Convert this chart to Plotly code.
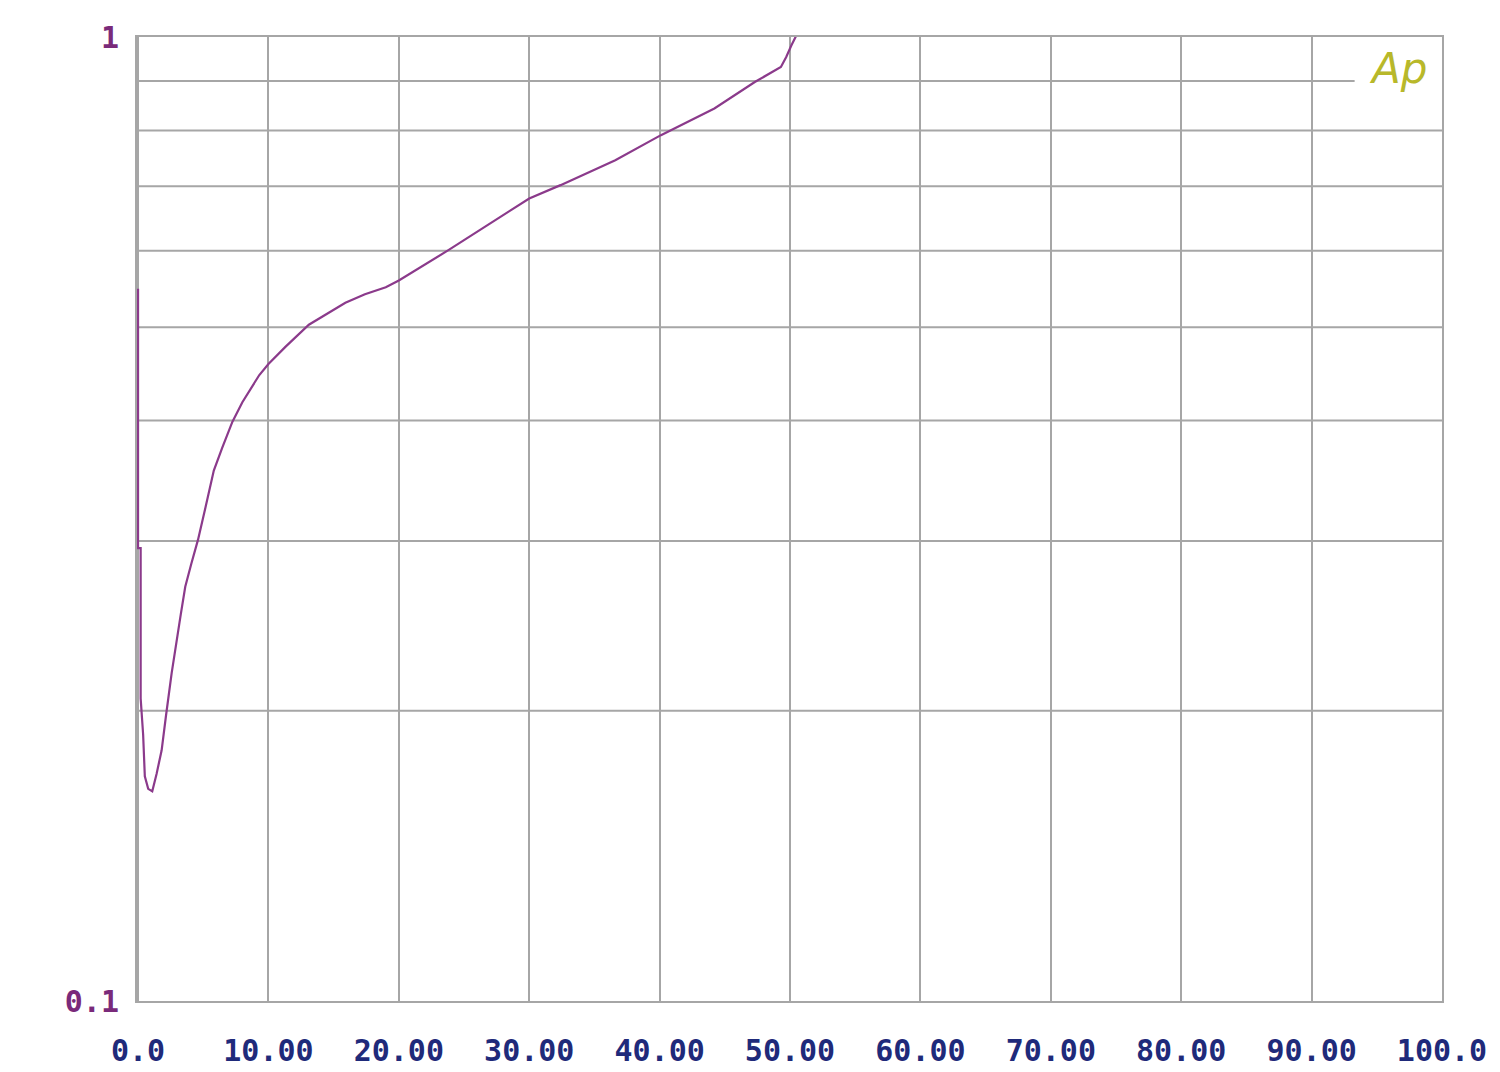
import math
import plotly.graph_objects as go

# ---- data ----
x_vals = [0, 0, 0.2, 0.2, 0.39, 0.52, 0.78, 1.09, 1.42, 1.81, 2.15, 2.58, 3.28, 3.62,
          4.08, 4.6, 5.17, 5.81, 6.46, 7.24, 8.0, 9.3, 10.0, 11.3, 13.1, 14.4, 15.9,
          17.4, 19.0, 20.0, 23.8, 30.0, 32.4, 36.6, 40.1, 44.2, 47.3, 49.3, 49.7,
          50.1, 50.5, 50.9]
y_vals = [0.548, 0.295, 0.295, 0.206, 0.189, 0.171, 0.166, 0.165, 0.172, 0.182, 0.198,
          0.219, 0.252, 0.269, 0.284, 0.301, 0.325, 0.355, 0.375, 0.399, 0.418, 0.446,
          0.458, 0.477, 0.503, 0.515, 0.530, 0.541, 0.550, 0.559, 0.601, 0.680, 0.702,
          0.745, 0.791, 0.843, 0.898, 0.931, 0.953, 0.980, 1.004, 1.03]

x_ticks = [0, 10, 20, 30, 40, 50, 60, 70, 80, 90, 100]
x_tick_labels = ["0.0", "10.00", "20.00", "30.00", "40.00", "50.00",
                 "60.00", "70.00", "80.00", "90.00", "100.0"]
y_ticks = [0.1, 1]
y_tick_labels = ["0.1", "1"]
y_grid = [0.2, 0.3, 0.4, 0.5, 0.6, 0.7, 0.8, 0.9]

GRID = "#a6a6a6"
LINE = "#8b3a8b"
XLAB = "#1f2a7a"
YLAB = "#7a2a7a"
FONT = "DejaVu Sans Mono"

Y_MIN, Y_MAX = 0.1, 1.0

fig = go.Figure()
fig.add_trace(go.Scatter(x=x_vals, y=y_vals, mode="lines",
                         line=dict(color=LINE, width=2.2), showlegend=False,
                         cliponaxis=False))

# horizontal log gridlines (the 0.9 line stops short of the "Ap" logo)
span = math.log10(Y_MAX) - math.log10(Y_MIN)
shapes = []
for v in y_grid:
    p = (math.log10(v) - math.log10(Y_MIN)) / span
    x1 = 93.3 if v == 0.9 else 100
    shapes.append(dict(type="line", xref="x", yref="paper", x0=0, x1=x1,
                       y0=p, y1=p, line=dict(color=GRID, width=2), layer="below"))

fig.update_layout(
    width=1492, height=1064,
    margin=dict(l=129, r=58, t=29, b=71, autoexpand=False),
    paper_bgcolor="white", plot_bgcolor="white",
    shapes=shapes,
    xaxis=dict(range=[-0.08, 100], tickvals=x_ticks, ticktext=x_tick_labels,
               showgrid=True, gridcolor=GRID, gridwidth=2, zeroline=False,
               showline=True, linecolor=GRID, linewidth=2, mirror=True,
               layer="below traces",
               ticks="", ticklabelstandoff=22,
               tickfont=dict(family=FONT, size=30, color=XLAB, weight="bold")),
    yaxis=dict(type="log", range=[math.log10(Y_MIN), math.log10(Y_MAX)],
               tickvals=y_ticks, ticktext=y_tick_labels,
               showgrid=False, zeroline=False,
               showline=True, linecolor=GRID, linewidth=2, mirror=True,
               layer="below traces",
               ticks="", ticklabelstandoff=10,
               tickfont=dict(family=FONT, size=30, color=YLAB, weight="bold")),
    annotations=[dict(text="<i>Ap</i>", xref="paper", yref="paper",
                      x=0.9665, y=0.967, xanchor="center", yanchor="middle",
                      showarrow=False,
                      font=dict(family="DejaVu Sans", size=42, color="#b8b82a"))],
)

fig.write_html("out.html")
